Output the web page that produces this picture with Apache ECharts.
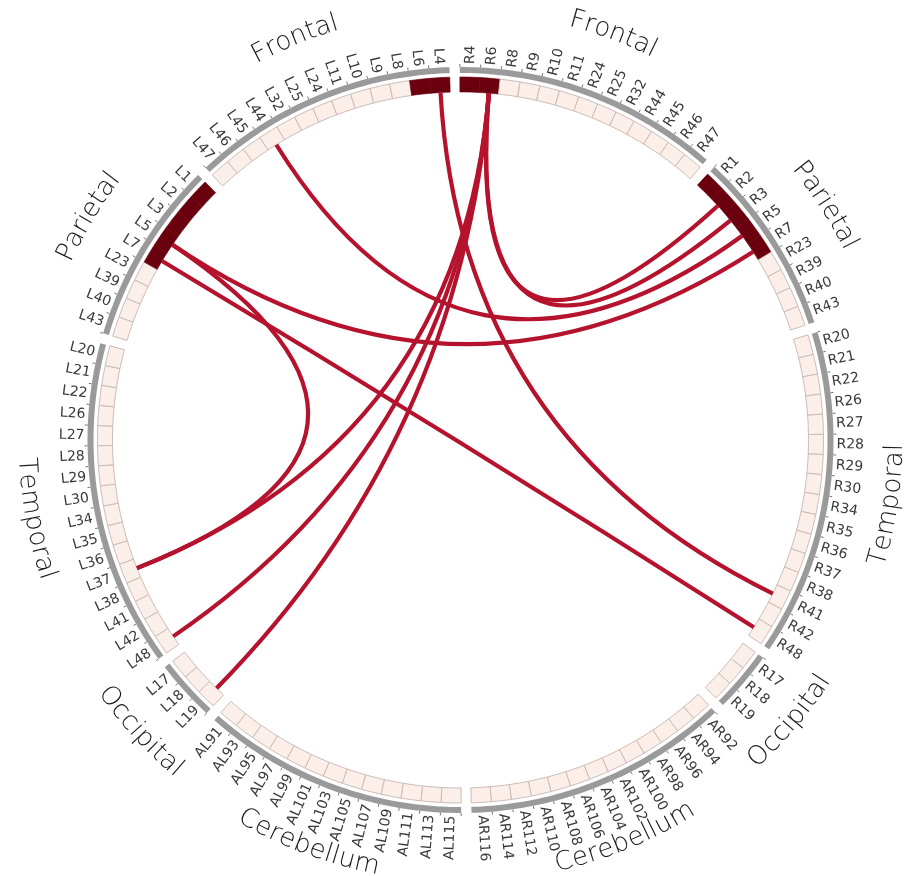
<!DOCTYPE html>
<html>
<head>
<meta charset="utf-8">
<title>Sensorimotor connectivity</title>
<script src="https://cdn.jsdelivr.net/npm/echarts@6/dist/echarts.min.js"></script>
<style>
  html, body { margin: 0; padding: 0; background: #ffffff; }
  #chart { width: 909px; height: 876px; }
</style>
</head>
<body>
<div id="chart"></div>
<script>
// Lobes, in clockwise order from the top on the right hemisphere
const lobeNames = ['Frontal', 'Parietal', 'Temporal', 'Occipital', 'Cerebellum'];

// Right hemisphere, clockwise from the top
const rightFrontal = ['R4', 'R6', 'R8', 'R9', 'R10', 'R11', 'R24', 'R25', 'R32', 'R44', 'R45', 'R46', 'R47'];
const rightParietal = ['R1', 'R2', 'R3', 'R5', 'R7', 'R23', 'R39', 'R40', 'R43'];
const rightTemporal = ['R20', 'R21', 'R22', 'R26', 'R27', 'R28', 'R29', 'R30', 'R34', 'R35', 'R36', 'R37', 'R38', 'R41', 'R42', 'R48'];
const rightOccipital = ['R17', 'R18', 'R19'];
const rightCerebellum = ['AR92', 'AR94', 'AR96', 'AR98', 'AR100', 'AR102', 'AR104', 'AR106', 'AR108', 'AR110', 'AR112', 'AR114', 'AR116'];

// Left hemisphere, clockwise from the bottom
const leftCerebellum = ['AL115', 'AL113', 'AL111', 'AL109', 'AL107', 'AL105', 'AL103', 'AL101', 'AL99', 'AL97', 'AL95', 'AL93', 'AL91'];
const leftOccipital = ['L19', 'L18', 'L17'];
const leftTemporal = ['L48', 'L42', 'L41', 'L38', 'L37', 'L36', 'L35', 'L34', 'L30', 'L29', 'L28', 'L27', 'L26', 'L22', 'L21', 'L20'];
const leftParietal = ['L43', 'L40', 'L39', 'L23', 'L7', 'L5', 'L3', 'L2', 'L1'];
const leftFrontal = ['L47', 'L46', 'L45', 'L44', 'L32', 'L25', 'L24', 'L11', 'L10', 'L9', 'L8', 'L6', 'L4'];

// Sensorimotor seed regions (shaded dark)
const seedNodes = ['L1', 'L2', 'L3', 'L4', 'L5', 'L6', 'L7', 'R1', 'R2', 'R3', 'R4', 'R5', 'R6', 'R7'];

// Connections
const edgeSource = ['R6', 'R6', 'R6', 'R6', 'R6', 'L4', 'R5', 'R7', 'L7', 'L5'];
const edgeTarget = ['R2', 'R3', 'L37', 'L48', 'L19', 'R41', 'L44', 'L5', 'R48', 'L37'];

// ---- layout: one angular unit per node, half a unit between lobes ----
const LOBE_GAP = 0.5;
const groups = [
  { lobe: lobeNames[0], nodes: rightFrontal },
  { lobe: lobeNames[1], nodes: rightParietal },
  { lobe: lobeNames[2], nodes: rightTemporal },
  { lobe: lobeNames[3], nodes: rightOccipital },
  { lobe: lobeNames[4], nodes: rightCerebellum },
  { lobe: lobeNames[4], nodes: leftCerebellum },
  { lobe: lobeNames[3], nodes: leftOccipital },
  { lobe: lobeNames[2], nodes: leftTemporal },
  { lobe: lobeNames[1], nodes: leftParietal },
  { lobe: lobeNames[0], nodes: leftFrontal }
];
const nodes = [];
const nodeByName = {};
let cursor = LOBE_GAP / 2;
groups.forEach(g => {
  g.start = cursor;
  g.nodes.forEach(name => {
    const n = { name: name, u0: cursor, u1: cursor + 1, seed: seedNodes.indexOf(name) >= 0 };
    nodes.push(n);
    nodeByName[name] = n;
    cursor += 1;
  });
  g.end = cursor;
  cursor += LOBE_GAP;
});
const TOTAL_UNITS = cursor - LOBE_GAP / 2;

// radii (px, radius axis runs 1:1 with pixels)
const R_CELL_IN = 348, R_CELL_OUT = 363;
const R_BAND_IN = 367, R_BAND_OUT = 373;
const R_NODE_LABEL = 376;
const R_LOBE_LABEL = 435;

const COLORS = {
  cell: '#fcefe9', cellBorder: '#cbbdb8', seed: '#6a000e',
  band: '#9a9a9a', tick: '#777777', nodeText: '#3a3a3a', lobeText: '#1a1a1a',
  edge: '#b5122d'
};

function ringPoints(api, r0, r1, u0, u1) {
  const steps = Math.max(2, Math.ceil((u1 - u0) * 4));
  const pts = [];
  for (let i = 0; i <= steps; i++) pts.push(api.coord([r1, u0 + (u1 - u0) * i / steps]));
  for (let i = steps; i >= 0; i--) pts.push(api.coord([r0, u0 + (u1 - u0) * i / steps]));
  return pts;
}

function radialAngle(api, r, u) {
  const c = api.coord([0, u]);
  const p = api.coord([r, u]);
  return { p: p, dx: p[0] - c[0], dy: p[1] - c[1], a: Math.atan2(-(p[1] - c[1]), p[0] - c[0]) };
}

// glyph widths for curved lobe captions
const measureCtx = document.createElement('canvas').getContext('2d');
const LOBE_FONT = { size: 26, family: '"DejaVu Sans"', weight: 200 };
function textWidth(s) {
  measureCtx.font = LOBE_FONT.weight + ' ' + LOBE_FONT.size + 'px ' + LOBE_FONT.family;
  return measureCtx.measureText(s).width;
}

function renderCell(params, api) {
  const n = nodes[params.dataIndex];
  const children = [];
  children.push({
    type: 'polygon',
    shape: { points: ringPoints(api, R_CELL_IN, R_CELL_OUT, n.u0, n.u1) },
    style: n.seed
      ? { fill: COLORS.seed, stroke: COLORS.seed, lineWidth: 0.6 }
      : { fill: COLORS.cell, stroke: COLORS.cellBorder, lineWidth: 1 }
  });
  // small ruler tick at the node boundary, outside the lobe band
  const t0 = api.coord([R_BAND_OUT, n.u0]);
  const t1 = api.coord([R_BAND_OUT + 3, n.u0]);
  children.push({
    type: 'line',
    shape: { x1: t0[0], y1: t0[1], x2: t1[0], y2: t1[1] },
    style: { stroke: COLORS.tick, lineWidth: 1 }
  });
  const um = (n.u0 + n.u1) / 2;
  const ra = radialAngle(api, R_NODE_LABEL, um);
  const right = ra.dx >= 0;
  children.push({
    type: 'text',
    x: ra.p[0], y: ra.p[1],
    rotation: right ? ra.a : ra.a + Math.PI,
    style: {
      text: n.name, align: right ? 'left' : 'right', verticalAlign: 'middle',
      fontSize: 14, fontFamily: '"DejaVu Sans"', fill: COLORS.nodeText
    }
  });
  return { type: 'group', children: children };
}

function renderLobe(params, api) {
  const g = groups[params.dataIndex];
  const children = [];
  children.push({
    type: 'polygon',
    shape: { points: ringPoints(api, R_BAND_IN, R_BAND_OUT, g.start, g.end) },
    style: { fill: COLORS.band, stroke: null }
  });
  // caption bent along the circle
  const mid = (g.start + g.end) / 2;
  const midInfo = radialAngle(api, R_LOBE_LABEL, mid);
  const upper = midInfo.dy < 0;                 // upper half reads clockwise
  const pxPerUnit = R_LOBE_LABEL * 2 * Math.PI / TOTAL_UNITS;
  const chars = g.lobe.split('');
  const widths = chars.map(textWidth);
  const total = widths.reduce((a, b) => a + b, 0);
  let acc = 0;
  chars.forEach((ch, i) => {
    const s = acc + widths[i] / 2 - total / 2;
    acc += widths[i];
    const u = upper ? mid + s / pxPerUnit : mid - s / pxPerUnit;
    const info = radialAngle(api, R_LOBE_LABEL, u);
    children.push({
      type: 'text',
      x: info.p[0], y: info.p[1],
      rotation: upper ? info.a - Math.PI / 2 : info.a + Math.PI / 2,
      style: {
        text: ch, align: 'center', verticalAlign: 'middle',
        fontSize: LOBE_FONT.size, fontFamily: LOBE_FONT.family, fontWeight: LOBE_FONT.weight,
        fill: COLORS.lobeText
      }
    });
  });
  return { type: 'group', children: children };
}

function renderEdge(params, api) {
  const a = nodeByName[edgeSource[params.dataIndex]];
  const b = nodeByName[edgeTarget[params.dataIndex]];
  const p0 = api.coord([R_CELL_IN, (a.u0 + a.u1) / 2]);
  const p1 = api.coord([R_CELL_IN, (b.u0 + b.u1) / 2]);
  const c = api.coord([0, 0]);
  return {
    type: 'bezierCurve',
    shape: { x1: p0[0], y1: p0[1], x2: p1[0], y2: p1[1], cpx1: c[0], cpy1: c[1] },
    style: { stroke: COLORS.edge, lineWidth: 4.2, fill: null }
  };
}

const chart = echarts.init(document.getElementById('chart'), null, { renderer: 'canvas' });
chart.setOption({
  backgroundColor: '#ffffff',
  animation: false,
  polar: { center: [460.5, 440], radius: 400 },
  angleAxis: {
    type: 'value', min: 0, max: TOTAL_UNITS, startAngle: 90.9, clockwise: true,
    show: false
  },
  radiusAxis: { type: 'value', min: 0, max: 400, show: false },
  series: [
    {
      type: 'custom', coordinateSystem: 'polar', silent: true, clip: false, z: 2,
      data: nodes.map(n => [R_CELL_OUT, (n.u0 + n.u1) / 2]),
      renderItem: renderCell
    },
    {
      type: 'custom', coordinateSystem: 'polar', silent: true, clip: false, z: 2,
      data: groups.map(g => [R_BAND_OUT, (g.start + g.end) / 2]),
      renderItem: renderLobe
    },
    {
      type: 'custom', coordinateSystem: 'polar', silent: true, clip: false, z: 3,
      data: edgeSource.map((s, i) => [R_CELL_IN, i]),
      renderItem: renderEdge
    }
  ]
});
</script>
</body>
</html>
